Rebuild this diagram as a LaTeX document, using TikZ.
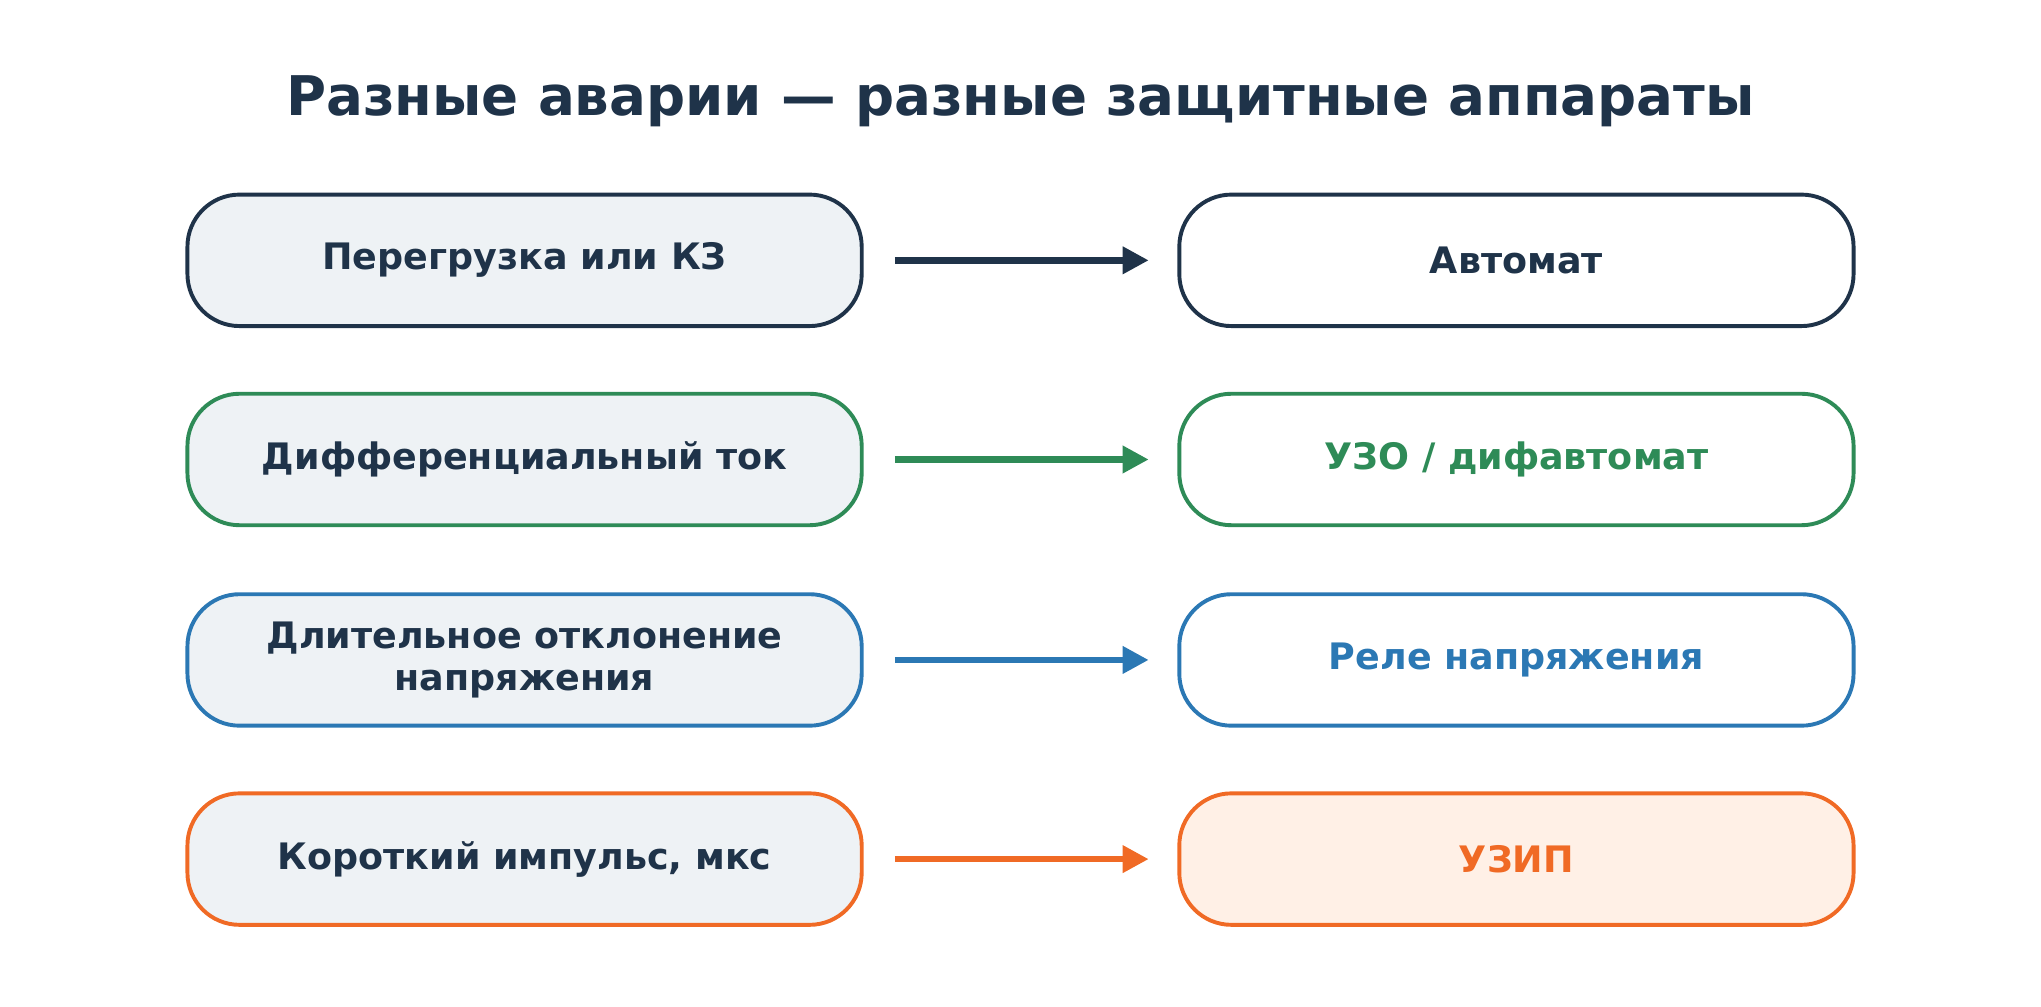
\documentclass[tikz,border=0pt]{standalone}
\usepackage{fontspec}
\setmainfont{DejaVu Sans}
\usetikzlibrary{positioning, arrows.meta}

\definecolor{navy}{HTML}{1F3349}
\definecolor{grn}{HTML}{2E8B57}
\definecolor{blu}{HTML}{2B78B4}
\definecolor{org}{HTML}{F06A25}
\definecolor{pale}{HTML}{EEF2F5}
\definecolor{peach}{HTML}{FFF0E6}

\tikzset{
  box/.style={draw, line width=3pt, rounded corners=40pt, minimum width=518pt,
    minimum height=101pt, align=center, font=\fontsize{28}{32}\selectfont\bfseries,
    text=navy},
  cause/.style={box, fill=pale},
  device/.style={box, fill=white},
  link/.style={line width=5pt, -{Triangle[length=20pt,width=20pt]}}
}

\begin{document}
\begin{tikzpicture}[x=1pt, y=-1pt]
  \useasboundingbox (0,0) rectangle (1568,773);
  \node[font=\fontsize{42}{48}\selectfont\bfseries, text=navy] (title) at (784,78)
    {Разные аварии — разные защитные аппараты};

  \node[cause, draw=navy] (c1) at (403,200) {Перегрузка или КЗ};
  \node[device, draw=navy] (d1) at (1165,200) {Автомат};
  \node[cause, draw=grn] (c2) at (403,353) {Дифференциальный ток};
  \node[device, draw=grn, text=grn] (d2) at (1165,353) {УЗО / дифавтомат};
  \node[cause, draw=blu] (c3) at (403,507) {Длительное отклонение\\напряжения};
  \node[device, draw=blu, text=blu] (d3) at (1165,507) {Реле напряжения};
  \node[cause, draw=org] (c4) at (403,660) {Короткий импульс, мкс};
  \node[device, draw=org, fill=peach, text=org] (d4) at (1165,660) {УЗИП};

  \draw[link, navy] ([xshift=24pt]c1.east) -- ([xshift=-22pt]d1.west);
  \draw[link, grn] ([xshift=24pt]c2.east) -- ([xshift=-22pt]d2.west);
  \draw[link, blu] ([xshift=24pt]c3.east) -- ([xshift=-22pt]d3.west);
  \draw[link, org] ([xshift=24pt]c4.east) -- ([xshift=-22pt]d4.west);
\end{tikzpicture}
\end{document}
